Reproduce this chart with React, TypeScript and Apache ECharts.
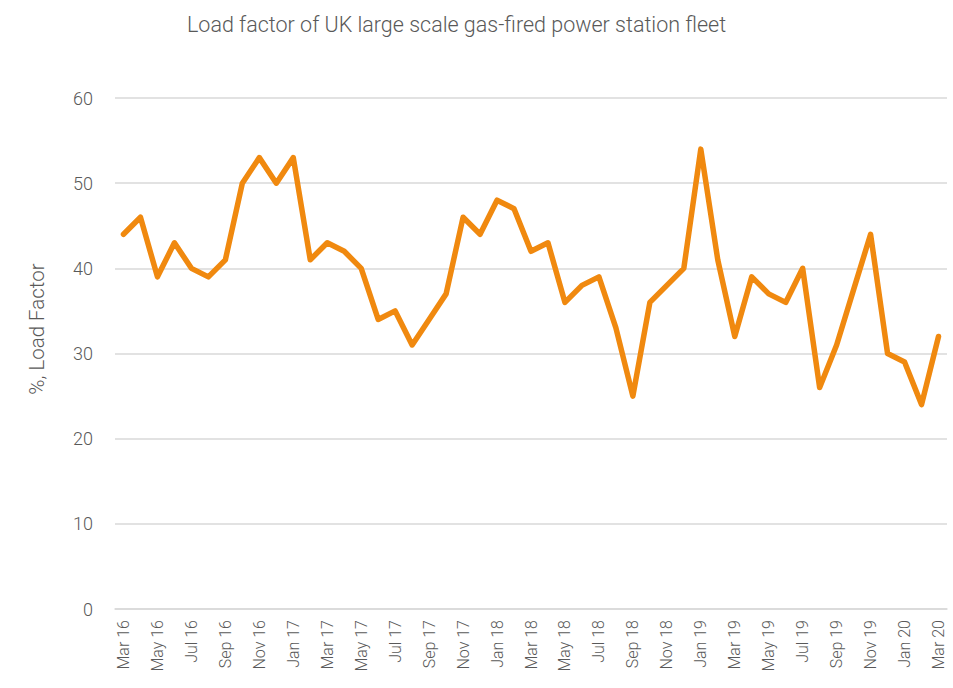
import React, { useEffect, useRef } from "react";
import * as echarts from "echarts";

const months: string[] = [
  "Mar 16","Apr 16","May 16","Jun 16","Jul 16","Aug 16","Sep 16","Oct 16","Nov 16","Dec 16",
  "Jan 17","Feb 17","Mar 17","Apr 17","May 17","Jun 17","Jul 17","Aug 17","Sep 17","Oct 17","Nov 17","Dec 17",
  "Jan 18","Feb 18","Mar 18","Apr 18","May 18","Jun 18","Jul 18","Aug 18","Sep 18","Oct 18","Nov 18","Dec 18",
  "Jan 19","Feb 19","Mar 19","Apr 19","May 19","Jun 19","Jul 19","Aug 19","Sep 19","Oct 19","Nov 19","Dec 19",
  "Jan 20","Feb 20","Mar 20",
];

const loadFactor: number[] = [
  44, 46, 39, 43, 40, 39, 41, 50, 53, 50,
  53, 41, 43, 42, 40, 34, 35, 31, 34, 37, 46, 44,
  48, 47, 42, 43, 36, 38, 39, 33, 25, 36, 38, 40,
  54, 41, 32, 39, 37, 36, 40, 26, 31, 37.5, 44, 30,
  29, 24, 32,
];

const titleText = "Load factor of UK large scale gas-fired power station fleet";
const yAxisName = "%, Load Factor";

export default function App() {
  const ref = useRef<HTMLDivElement>(null);
  useEffect(() => {
    if (!ref.current) return;
    const chart = echarts.init(ref.current, undefined, { renderer: "svg" });
    const font = "Roboto, 'Open Sans', sans-serif";
    chart.setOption({
      animation: false,
      backgroundColor: "#ffffff",
      title: {
        text: titleText,
        left: 182,
        top: 8,
        textStyle: { fontFamily: font, fontSize: 21.5, fontWeight: 300, color: "#595959" },
      },
      grid: { left: 115, right: 6, top: 98, bottom: 79, containLabel: false },
      graphic: [
        {
          type: "text",
          x: 37,
          y: 329,
          rotation: Math.PI / 2,
          style: {
            text: yAxisName,
            fontFamily: font,
            fontSize: 20.5,
            fontWeight: 300,
            fill: "#595959",
            align: "center",
            verticalAlign: "middle",
          },
        },
      ],
      xAxis: {
        type: "category",
        data: months,
        boundaryGap: true,
        axisLine: { show: true, lineStyle: { color: "#d9d9d9", width: 1.5 } },
        axisTick: { show: false },
        axisLabel: {
          interval: 1,
          rotate: 90,
          margin: 11,
          fontFamily: font,
          fontSize: 16,
          fontWeight: 300,
          color: "#595959",
        },
      },
      yAxis: {
        type: "value",
        min: 0,
        max: 60,
        interval: 10,
        axisLine: { show: false },
        axisTick: { show: false },
        axisLabel: { margin: 22, fontFamily: font, fontSize: 18, fontWeight: 300, color: "#595959" },
        splitLine: { lineStyle: { color: "#d9d9d9", width: 1.5 } },
      },
      series: [
        {
          type: "line",
          data: loadFactor,
          showSymbol: false,
          symbol: "none",
          lineStyle: { color: "#F0890F", width: 5.5, join: "round", cap: "round" },
          itemStyle: { color: "#F0890F" },
        },
      ],
    });
    return () => chart.dispose();
  }, []);
  return <div ref={ref} style={{ width: 953, height: 688, position: "absolute", left: 0, top: 0 }} />;
}
